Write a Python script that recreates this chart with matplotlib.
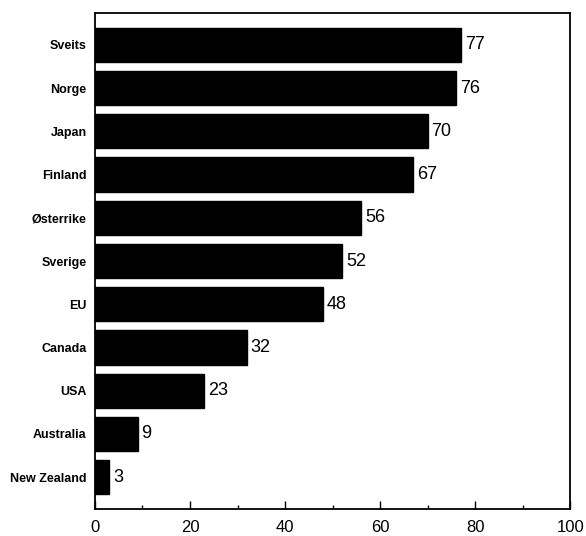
import matplotlib
matplotlib.use("Agg")
import matplotlib.pyplot as plt
from matplotlib.ticker import MultipleLocator

plt.rcParams['font.family'] = ['Liberation Sans', 'DejaVu Sans']

countries = ['Sveits', 'Norge', 'Japan', 'Finland', 'Østerrike', 'Sverige',
             'EU', 'Canada', 'USA', 'Australia', 'New Zealand']
values = [77, 76, 70, 67, 56, 52, 48, 32, 23, 9, 3]

fig = plt.figure(figsize=(5.86, 5.36), dpi=100)
ax = fig.add_axes([0.162, 0.050, 0.811, 0.926])

ypos = list(range(len(countries)))
ax.barh(ypos, values, height=0.79, color='black', edgecolor='black')

# value written just past the end of each bar
for y, v in zip(ypos, values):
    ax.text(v + 0.8, y, str(v), va='center', ha='left', fontsize=13)

ax.set_yticks(ypos)
ax.set_yticklabels(countries, fontsize=9, fontweight='bold')
ax.set_ylim(10.74, -0.74)
ax.set_xlim(0, 100)

ax.xaxis.set_major_locator(MultipleLocator(20))
ax.xaxis.set_minor_locator(MultipleLocator(10))
ax.tick_params(axis='x', which='major', direction='in', length=6, width=1,
               labelsize=12, pad=8)
ax.tick_params(axis='x', which='minor', direction='in', length=3, width=1)
ax.tick_params(axis='y', length=0, pad=6)

for s in ax.spines.values():
    s.set_linewidth(1.3)

fig.savefig('out.png', dpi=100)
